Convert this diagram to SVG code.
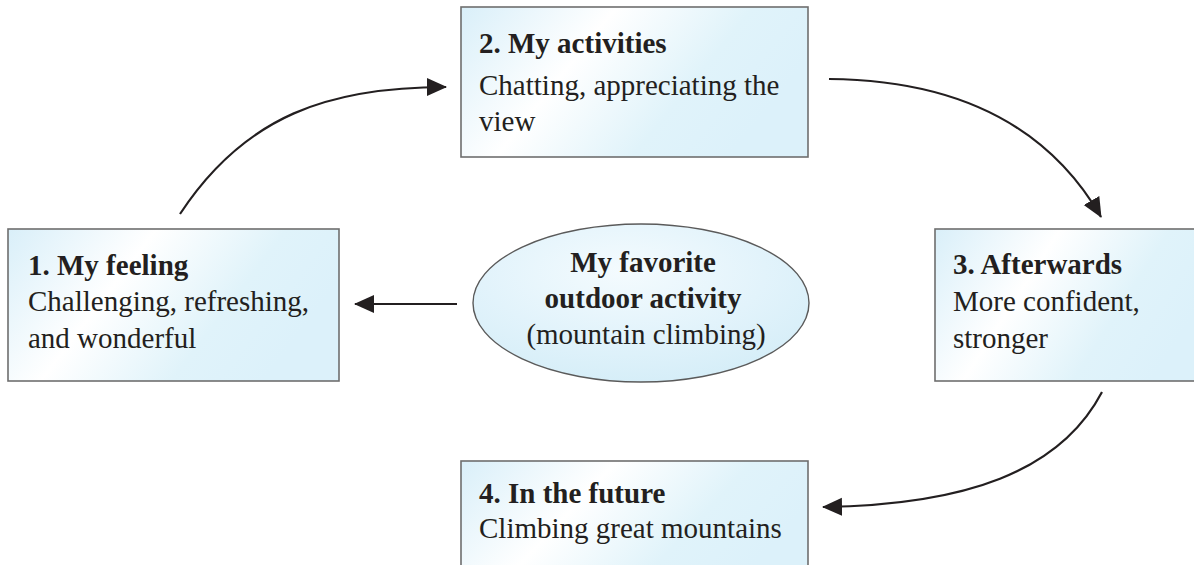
<svg xmlns="http://www.w3.org/2000/svg" width="1194" height="565" viewBox="0 0 1194 565">
<defs>
<linearGradient id="boxFill" x1="0" y1="0" x2="1" y2="0.35">
<stop offset="0" stop-color="#d9eff9"/>
<stop offset="0.4" stop-color="#ffffff"/>
<stop offset="0.75" stop-color="#e0f3fa"/>
<stop offset="1" stop-color="#dcf1fa"/>
</linearGradient>
<radialGradient id="ellFill" cx="0.45" cy="0.3" r="0.7">
<stop offset="0" stop-color="#f4fbfe"/>
<stop offset="0.6" stop-color="#e2f3fb"/>
<stop offset="1" stop-color="#d6eef8"/>
</radialGradient>
<marker id="arrow" markerUnits="userSpaceOnUse" markerWidth="22" markerHeight="20" refX="19" refY="9" orient="auto">
<path d="M0,0 L20,9 L0,18 Z" fill="#231f20"/>
</marker>
<style>
.box { fill: url(#boxFill); stroke: #6e6e6e; stroke-width: 1.6; }
.ell { fill: url(#ellFill); stroke: #5a5a5a; stroke-width: 1.4; }
.t { font-family: "Liberation Serif", "Times New Roman", serif; font-size: 29px; fill: #231f20; }
.b { font-weight: bold; }
.c { text-anchor: middle; }
.conn { fill: none; stroke: #231f20; stroke-width: 2.2; marker-end: url(#arrow); }
</style>
</defs>
<rect width="1194" height="565" fill="#ffffff"/>
<g id="connectors">
<path class="conn" d="M457,304 L355,304"/>
<path class="conn" d="M180,214 C245,115 330,87 446,87"/>
<path class="conn" d="M829,79 C950,80 1045,120 1101,217"/>
<path class="conn" d="M1102,392 C1060,472 965,505 823,507"/>
</g>
<g id="node-center">
<ellipse class="ell" cx="641" cy="303" rx="168" ry="79"/>
<text class="t b c" x="643" y="272">My favorite</text>
<text class="t b c" x="643" y="308">outdoor activity</text>
<text class="t c" x="646" y="344">(mountain climbing)</text>
</g>
<g id="node-1">
<rect class="box" x="8" y="229" width="331" height="152"/>
<text class="t b" x="28" y="275">1. My feeling</text>
<text class="t" x="28" y="311">Challenging, refreshing,</text>
<text class="t" x="28" y="348">and wonderful</text>
</g>
<g id="node-2">
<rect class="box" x="461" y="7" width="347" height="150"/>
<text class="t b" x="479" y="53">2. My activities</text>
<text class="t" x="479" y="95">Chatting, appreciating the</text>
<text class="t" x="479" y="131">view</text>
</g>
<g id="node-3">
<rect class="box" x="935" y="229" width="280" height="152"/>
<text class="t b" x="953" y="274">3. Afterwards</text>
<text class="t" x="953" y="311">More confident,</text>
<text class="t" x="953" y="348">stronger</text>
</g>
<g id="node-4">
<rect class="box" x="461" y="461" width="347" height="130"/>
<text class="t b" x="479" y="503">4. In the future</text>
<text class="t" x="479" y="538">Climbing great mountains</text>
</g>
</svg>
